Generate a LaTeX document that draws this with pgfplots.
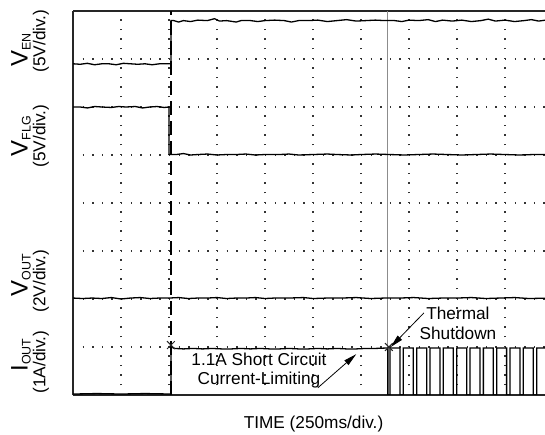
\documentclass[border=0pt]{standalone}
\usepackage{pgfplots}
\pgfplotsset{compat=1.18}
\usepackage{fontspec}
\setmainfont{Liberation Sans}
\usetikzlibrary{arrows.meta}

% channel name: big letter with small subscript
\newcommand{\chname}[2]{{\fontsize{24}{24}\selectfont #1}\raisebox{-3bp}{\fontsize{12.5}{12.5}\selectfont #2}}
\newcommand{\scalefont}{\fontsize{17.3}{20}\selectfont}

\begin{document}
\begin{tikzpicture}
  \useasboundingbox (0,0) rectangle (545bp,435bp);
  \clip (0,0) rectangle (545bp,435bp);

  \begin{axis}[
    at={(73bp,40bp)}, anchor=south west,
    scale only axis, width=480bp, height=384bp,
    xmin=0, xmax=10, ymin=0, ymax=8,
    xtick={0,...,10}, ytick={0,...,8},
    xticklabels={}, yticklabels={},
    major tick length=0pt,
    grid=major,
    major grid style={black!80, line width=1.4bp, dash pattern=on 1.4bp off 8.2bp},
    axis y line*=left,
    axis line style={line width=1.4bp, black!85},
    clip=true,
  ]
    % markers / cursors
    \addplot[black, line width=1.4bp, dash pattern=on 14bp off 6bp] coordinates {(2.04,0) (2.04,8)};
    \addplot[black!45, line width=1bp] coordinates {(6.56,0) (6.56,8)};

    % V_EN
    \addplot[black, line width=1.3bp] coordinates {
      (0,6.90) (0.15,6.89) (0.3,6.91) (0.45,6.88) (0.6,6.90) (0.75,6.90) (0.9,6.88)
      (1.05,6.91) (1.2,6.90) (1.35,6.89) (1.5,6.90) (1.65,6.88) (1.8,6.90) (1.95,6.90)
      (2.04,6.90) (2.04,7.80)
      (2.1,7.80) (2.2,7.77) (2.3,7.80) (2.45,7.78) (2.6,7.81) (2.8,7.80) (2.95,7.84)
      (3.05,7.79) (3.2,7.80) (3.4,7.77) (3.5,7.80) (3.7,7.80) (3.85,7.78) (4.0,7.80)
      (4.2,7.81) (4.4,7.80) (4.55,7.77) (4.7,7.80) (4.9,7.80) (5.1,7.81) (5.3,7.78)
      (5.5,7.80) (5.7,7.82) (5.9,7.79) (6.1,7.80) (6.3,7.81) (6.5,7.80) (6.7,7.80)
      (6.85,7.78) (7.0,7.81) (7.2,7.80) (7.4,7.82) (7.55,7.78) (7.7,7.81) (7.9,7.79)
      (8.1,7.81) (8.3,7.78) (8.5,7.80) (8.65,7.83) (8.8,7.79) (9.0,7.81) (9.2,7.78)
      (9.4,7.80) (9.55,7.82) (9.7,7.79) (9.85,7.81) (10,7.80)
    };

    % V_FLG
    \addplot[black, line width=1.3bp] coordinates {
      (0,6.00) (0.15,6.00) (0.3,5.98) (0.45,6.01) (0.6,6.00) (0.8,5.99) (0.95,6.01)
      (1.1,6.00) (1.3,6.01) (1.45,5.98) (1.6,6.00) (1.75,6.01) (1.9,5.99) (2.0,6.00)
      (2.0,5.01)
      (2.15,5.01) (2.3,5.03) (2.45,5.00) (2.6,5.01) (2.8,5.02) (3.0,5.00) (3.2,5.01)
      (3.4,5.01) (3.6,5.02) (3.8,5.00) (4.0,5.01) (4.3,5.01) (4.5,5.02) (4.7,5.00)
      (5.0,5.01) (5.3,5.02) (5.5,5.01) (5.8,5.00) (6.0,5.01) (6.3,5.02) (6.6,5.01)
      (6.9,5.00) (7.2,5.01) (7.5,5.02) (7.8,5.01) (8.1,5.00) (8.4,5.01) (8.7,5.02)
      (9.0,5.01) (9.3,5.00) (9.6,5.01) (10,5.01)
    };

    % V_OUT
    \addplot[black, line width=1.3bp] coordinates {
      (0,2.02) (0.2,2.01) (0.4,2.02) (0.6,2.01) (0.8,2.03) (1.0,2.00) (1.2,2.02)
      (1.4,2.03) (1.6,2.01) (1.8,2.02) (2.0,2.02) (2.2,2.03) (2.4,2.01) (2.6,2.02)
      (2.8,2.02) (3.0,2.03) (3.2,2.01) (3.4,2.02) (3.6,2.02) (3.8,2.03) (4.0,2.01)
      (4.2,2.02) (4.5,2.02) (4.8,2.03) (5.0,2.01) (5.3,2.02) (5.6,2.02) (5.9,2.03)
      (6.2,2.01) (6.5,2.02) (6.8,2.02) (7.1,2.03) (7.4,2.01) (7.7,2.02) (8.0,2.02)
      (8.3,2.03) (8.6,2.01) (8.9,2.02) (9.2,2.03) (9.5,2.01) (10,2.02)
    };

    % I_OUT
    \addplot[black, line width=1.3bp] coordinates {
      (0,0.02) (0.5,0.03) (1.0,0.02) (1.5,0.03) (2.04,0.02)
      (2.04,1.00) (2.12,0.97) (2.3,0.96) (2.5,0.97) (2.7,0.96) (2.9,0.97) (3.1,0.96)
      (3.3,0.96) (3.5,0.97) (3.7,0.96) (3.9,0.97) (4.1,0.96) (4.3,0.96) (4.5,0.97)
      (4.7,0.96) (4.9,0.96) (5.1,0.97) (5.3,0.96) (5.5,0.97) (5.7,0.96) (5.9,0.96)
      (6.1,0.97) (6.3,0.97) (6.56,0.98)
      (6.56,0) (6.604,0) (6.604,0.98) (6.812,0.98) (6.812,0)
      (6.882,0) (6.882,0.98) (7.090,0.98) (7.090,0)
      (7.160,0) (7.160,0.98) (7.368,0.98) (7.368,0)
      (7.437,0) (7.437,0.98) (7.645,0.98) (7.645,0)
      (7.715,0) (7.715,0.98) (7.923,0.98) (7.923,0)
      (7.993,0) (7.993,0.98) (8.201,0.98) (8.201,0)
      (8.271,0) (8.271,0.98) (8.479,0.98) (8.479,0)
      (8.549,0) (8.549,0.98) (8.757,0.98) (8.757,0)
      (8.826,0) (8.826,0.98) (9.034,0.98) (9.034,0)
      (9.104,0) (9.104,0.98) (9.312,0.98) (9.312,0)
      (9.382,0) (9.382,0.98) (9.590,0.98) (9.590,0)
      (9.660,0) (9.660,0.98) (9.868,0.98) (9.868,0)
      (9.938,0) (9.938,0.98) (10,0.98)
    };

    \addplot[only marks, mark=x, mark size=5.5bp, black!85, line width=1bp]
      coordinates {(2.04,1.04) (6.58,1.0)};

    % annotations
    \node[font=\scalefont, align=center] at (axis cs:8.02,1.50) {Thermal\\Shutdown};
    \node[font=\scalefont, align=center] at (axis cs:3.875,0.51) {1.1A Short Circuit\\Current-Limiting};
    \draw[-{Triangle[length=13bp,width=6bp]}, line width=0.8bp]
      (axis cs:7.31,1.71) -- (axis cs:6.62,1.0);
    \draw[-{Triangle[length=13bp,width=6bp]}, line width=0.8bp]
      (axis cs:5.10,0.15) -- (axis cs:5.90,0.85);
  \end{axis}

  % channel labels
  \node[rotate=90] at (21bp,385bp) {\chname{V}{EN}};
  \node[rotate=90, font=\scalefont] at (41bp,394bp) {(5V/div.)};
  \node[rotate=90] at (21bp,299bp) {\chname{V}{FLG}};
  \node[rotate=90, font=\scalefont] at (41bp,299bp) {(5V/div.)};
  \node[rotate=90] at (21bp,160bp) {\chname{V}{OUT}};
  \node[rotate=90, font=\scalefont] at (41bp,154bp) {(2V/div.)};
  \node[rotate=90] at (21bp,80bp) {\chname{I}{OUT}};
  \node[rotate=90, font=\scalefont] at (41bp,73bp) {(1A/div.)};

  \node[font=\scalefont] at (313.5bp,11bp) {TIME (250ms/div.)};
\end{tikzpicture}
\end{document}
